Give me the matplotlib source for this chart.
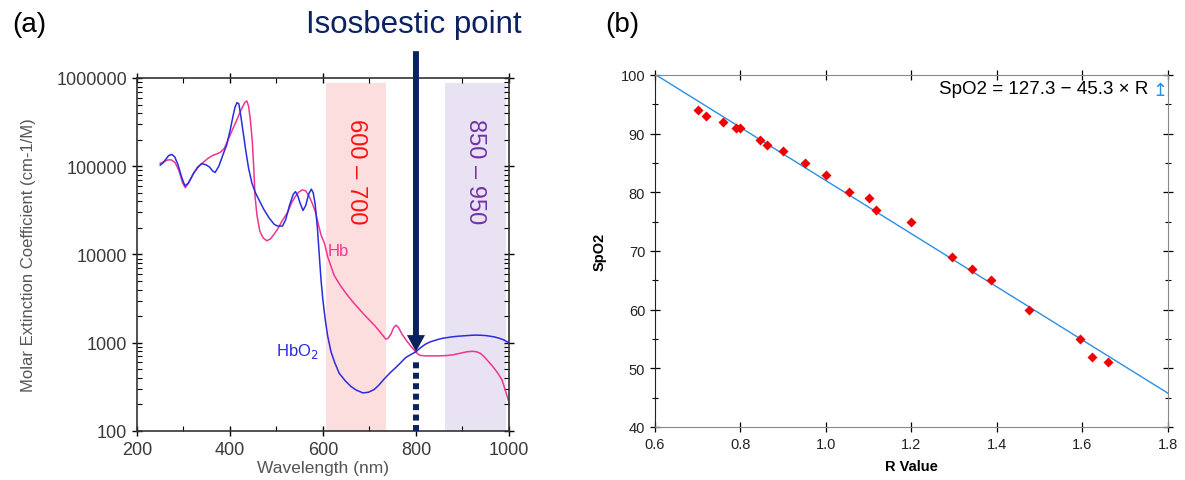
import matplotlib.pyplot as plt
import numpy as np

plt.rcParams['font.family'] = ['Liberation Sans', 'DejaVu Sans']

# --- (a) extinction spectra ---
wl_hbo2 = [250, 255, 262, 268, 275, 281, 288, 296, 303, 310, 320, 330, 339, 348,
           356, 363, 368, 376, 386, 393, 400, 407, 411, 415, 419, 423, 428, 434,
           440, 447, 454, 462, 472, 484, 495, 502, 513, 520, 528, 536, 541, 546,
           551, 557, 563, 569, 575, 579, 583, 588, 592, 596, 600, 605, 610, 617,
           625, 635, 648, 660, 672, 686, 698, 710, 720, 730, 745, 756, 768, 778,
           790, 800, 810, 820, 830, 840, 850, 860, 870, 880, 890, 900, 910, 920,
           930, 940, 950, 960, 970, 980, 990, 1000]
hbo2 = [103000, 108000, 120000, 132000, 136000, 128000, 105000, 75000, 60000, 64000,
        80000, 97000, 107000, 104000, 98000, 88000, 85000, 100000, 140000, 175000,
        250000, 380000, 470000, 525000, 510000, 380000, 250000, 150000, 95000, 65000,
        51000, 42000, 33000, 26000, 22000, 21000, 21000, 25000, 36000, 48000, 51500,
        46000, 38000, 31500, 36000, 48000, 55000, 50000, 38000, 20000, 10000, 5000,
        3000, 1800, 1200, 800, 600, 450, 370, 320, 290, 270, 275, 295, 330, 380,
        460, 520, 600, 680, 740, 790, 880, 960, 1020, 1060, 1100, 1130, 1150, 1170,
        1185, 1195, 1205, 1215, 1220, 1215, 1205, 1185, 1160, 1120, 1070, 1000]

wl_hb = [250, 258, 266, 274, 282, 290, 298, 304, 312, 322, 332, 342, 352, 362, 372,
         380, 388, 396, 404, 412, 420, 427, 432, 436, 440, 444, 448, 451, 454, 458,
         464, 471, 479, 487, 495, 503, 512, 524, 532, 540, 548, 556, 563, 570, 577,
         584, 590, 596, 603, 610, 617, 624, 638, 650, 662, 675, 688, 700, 712, 724,
         735, 740, 746, 752, 757, 762, 770, 780, 790, 800, 808, 820, 835, 850, 865,
         880, 895, 910, 922, 930, 938, 946, 955, 965, 975, 985, 993, 1000]
hb = [108000, 112000, 118000, 118000, 110000, 90000, 65000, 57000, 66000, 84000,
      98000, 110000, 122000, 132000, 138000, 145000, 160000, 200000, 250000, 310000,
      390000, 470000, 530000, 550000, 480000, 330000, 190000, 100000, 45000, 28000,
      18500, 15500, 14300, 15000, 17000, 19600, 24000, 30000, 38000, 45000, 51000,
      54000, 52500, 46000, 38000, 30000, 22000, 16500, 13500, 9500, 7400, 5800,
      4400, 3600, 3000, 2500, 2100, 1800, 1550, 1300, 1100, 1120, 1250, 1480, 1580,
      1500, 1250, 1050, 900, 780, 720, 710, 710, 710, 715, 730, 760, 790, 800, 790,
      760, 700, 620, 540, 460, 380, 280, 210]

band_red = (606, 736)
band_purple = (863, 993)
isosbestic_wl = 800
isosbestic_val = 790

# --- (b) calibration points ---
r_value = [0.70, 0.72, 0.76, 0.79, 0.80, 0.845, 0.862, 0.90, 0.95, 1.00, 1.055,
           1.10, 1.117, 1.20, 1.296, 1.341, 1.385, 1.474, 1.594, 1.622, 1.659]
spo2 = [94, 93, 92, 91, 91, 89, 88, 87, 85, 83, 80, 79, 77, 75, 69, 67, 65, 60,
        55, 52, 51]
fit_intercept = 127.3
fit_slope = -45.3
fit_r = np.array([0.6, 1.8])

navy = '#0B2260'
tick_gray = '#3a3a3a'

fig = plt.figure(figsize=(11.85, 4.81), dpi=100)

# ---------------- panel (a) ----------------
ax1 = fig.add_axes([0.1156, 0.1019, 0.3139, 0.7339])
ax1.axvspan(*band_red, ymax=0.987, color='#FDDEDE', lw=0, zorder=0)
ax1.axvspan(*band_purple, ymax=0.987, color='#E9E2F2', lw=0, zorder=0)
ax1.plot(wl_hb, hb, color='#F0358F', lw=1.1, zorder=2)
ax1.plot(wl_hbo2, hbo2, color='#2B2BE0', lw=1.1, zorder=3)
ax1.set_yscale('log')
ax1.set_xlim(200, 1000)
ax1.set_ylim(100, 1e6)
ax1.set_xticks([200, 400, 600, 800, 1000])
ax1.set_xticks([300, 500, 700, 900], minor=True)
ax1.set_yticks([100, 1000, 10000, 100000, 1000000])
ax1.set_yticklabels(['100', '1000', '10000', '100000', '1000000'])
ax1.tick_params(axis='both', which='major', direction='inout', length=7, width=1,
                labelsize=13, labelcolor=tick_gray, top=True, right=True)
ax1.tick_params(axis='both', which='minor', direction='in', length=3.5, width=0.8,
                top=True, right=True)
for s in ax1.spines.values():
    s.set_color('#333333')
    s.set_linewidth(1.2)
ax1.set_xlabel('Wavelength (nm)', fontsize=12.5, color='#555555', labelpad=2)
ax1.set_ylabel('Molar Extinction Coefficient (cm-1/M)', fontsize=12,
               color='#555555', labelpad=15)

ax1.text(671, 90000, '600 \u2013 700', rotation=270, color='#FF1010', fontsize=17,
         ha='center', va='center')
ax1.text(928, 90000, '850 \u2013 950', rotation=270, color='#7232A8', fontsize=17,
         ha='center', va='center')
ax1.text(633, 11000, 'Hb', color='#F0358F', fontsize=12, ha='center', va='center')
ax1.text(545, 820, r'HbO$_2$', color='#2B2BE0', fontsize=12, ha='center', va='center')

ax1.annotate('', xy=(isosbestic_wl, isosbestic_val), xycoords='data',
             xytext=(isosbestic_wl, 1.076), textcoords=('data', 'axes fraction'),
             arrowprops=dict(facecolor=navy, edgecolor='none', width=4.3,
                             headwidth=13, headlength=12, shrink=0),
             annotation_clip=False, zorder=5)
ax1.plot([isosbestic_wl, isosbestic_wl], [100, 640], color=navy, lw=4.3,
         linestyle=(0, (1, 0.75)), dash_capstyle='butt', zorder=5, clip_on=False)

fig.text(414 / 1185, 1 - 25 / 481, 'Isosbestic point', color=navy, fontsize=22.5,
         ha='center', va='center')
fig.text(29 / 1185, 1 - 25 / 481, '(a)', fontsize=20, ha='center', va='center')
fig.text(622 / 1185, 1 - 25 / 481, '(b)', fontsize=20, ha='center', va='center')

# ---------------- panel (b) ----------------
ax2 = fig.add_axes([0.5527, 0.1102, 0.4329, 0.7318])
ax2.plot(fit_r, fit_intercept + fit_slope * fit_r, color='#2A8FE8', lw=1, zorder=2)
ax2.scatter(r_value, spo2, marker='D', s=26, color='#F00000', lw=0, zorder=3)
ax2.set_xlim(0.6, 1.8)
ax2.set_ylim(40, 100)
ax2.set_xticks(np.arange(0.6, 1.81, 0.2))
ax2.set_xticklabels(['0.6', '0.8', '1.0', '1.2', '1.4', '1.6', '1.8'])
ax2.set_yticks(np.arange(40, 101, 10))
ax2.set_yticks(np.arange(45, 100, 10), minor=True)
ax2.tick_params(axis='both', which='major', direction='inout', length=7, width=0.9,
                labelsize=10.5, labelcolor='#222222', top=True, right=True)
ax2.tick_params(axis='y', which='minor', direction='inout', length=4, width=0.8,
                right=True)
ax2.spines['left'].set_color('#222222')
ax2.spines['bottom'].set_color('#888888')
ax2.spines['top'].set_color('#888888')
ax2.spines['right'].set_color('#888888')
ax2.set_xlabel('R Value', fontsize=10.5, fontweight='bold', labelpad=6)
ax2.set_ylabel('SpO2', fontsize=10.5, fontweight='bold', labelpad=10)
ax2.text(0.961, 0.962, 'SpO2 = 127.3 \u2212 45.3 \u00d7 R', transform=ax2.transAxes,
         fontsize=13.5, ha='right', va='center')
ax2.text(0.985, 0.958, '\u21a5', transform=ax2.transAxes, fontsize=13,
         color='#2A8FE8', ha='center', va='center', family=['DejaVu Sans'])

fig.savefig('out.png', dpi=100)
